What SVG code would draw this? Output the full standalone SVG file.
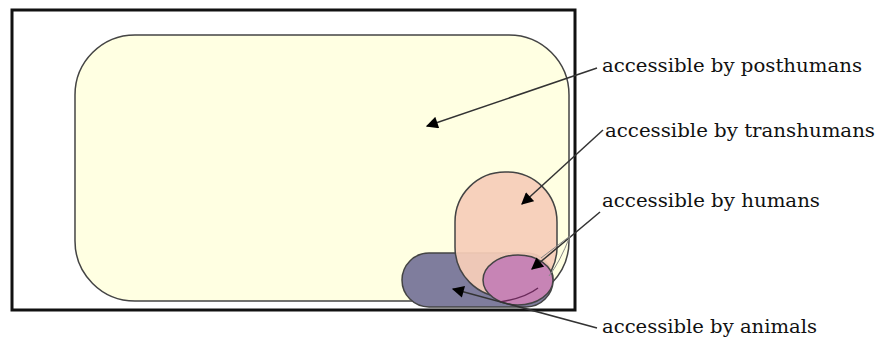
<svg xmlns="http://www.w3.org/2000/svg" width="878" height="342" viewBox="0 0 878 342">
<style>
.lbl{font-family:"DejaVu Serif","Liberation Serif",serif;font-size:18px;fill:#111}
.conn{stroke:#333;stroke-width:1.5;fill:none}
.region{stroke:#444;stroke-width:1.5}
</style>
<defs>
<marker id="ah" viewBox="0 0 10 10" refX="9" refY="5" markerWidth="13" markerHeight="12" markerUnits="userSpaceOnUse" orient="auto">
<path d="M0,0 L10,5 L0,10 z" fill="#000"/>
</marker>
</defs>
<rect width="878" height="342" fill="#fff"/>
<g id="frame"><rect x="12" y="10" width="563" height="300" fill="#fff" stroke="#111" stroke-width="3"/></g>
<g id="posthumans"><rect class="region" x="75" y="35" width="494" height="266" rx="60" ry="60" fill="#ffffe2"/></g>
<g id="animals"><rect class="region" x="402" y="253" width="151" height="54" rx="27" ry="27" fill="#7f7d9d"/></g>
<g id="transhumans"><rect class="region" x="455" y="172" width="102" height="125" rx="50" ry="50" fill="#f6cdb9" fill-opacity="0.93"/></g>
<g id="humans"><ellipse class="region" cx="518" cy="280" rx="35" ry="25" fill="#c784b5"/>
<path d="M500,302 Q525,298 538,288" stroke="#6a2a5a" stroke-width="1.5" fill="none"/></g>
<g id="connectors">
<line class="conn" x1="597" y1="68" x2="427" y2="126" marker-end="url(#ah)"/>
<line class="conn" x1="603" y1="130" x2="522" y2="204" marker-end="url(#ah)"/>
<line class="conn" x1="600" y1="212" x2="532" y2="269" marker-end="url(#ah)"/>
<path d="M570,236 L541,258 M570,236 Q560,262 549,276" stroke="#888" stroke-width="1" fill="none"/>
<line class="conn" x1="597" y1="328" x2="453" y2="289" marker-end="url(#ah)"/>
</g>
<g id="labels">
<text class="lbl" x="602" y="72" textLength="260" lengthAdjust="spacingAndGlyphs">accessible by posthumans</text>
<text class="lbl" x="605" y="137" textLength="270" lengthAdjust="spacingAndGlyphs">accessible by transhumans</text>
<text class="lbl" x="602" y="207" textLength="218" lengthAdjust="spacingAndGlyphs">accessible by humans</text>
<text class="lbl" x="602" y="333" textLength="215" lengthAdjust="spacingAndGlyphs">accessible by animals</text>
</g>
</svg>
